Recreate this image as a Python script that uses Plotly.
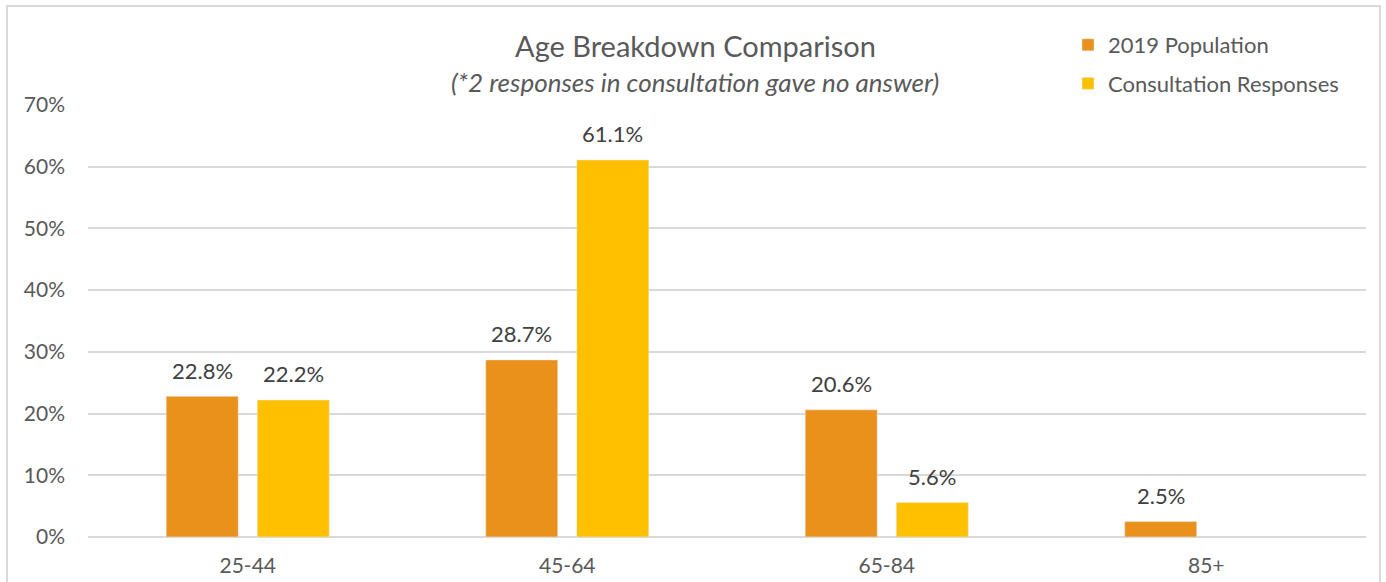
import plotly.graph_objects as go

categories = ["25-44", "45-64", "65-84", "85+"]
population_2019 = [22.8, 28.7, 20.6, 2.5]
consultation = [22.2, 61.1, 5.6, None]
y_ticks = [0, 10, 20, 30, 40, 50, 60, 70]
y_tick_labels = ["0%", "10%", "20%", "30%", "40%", "50%", "60%", "70%"]

ORANGE = "#EA911C"
YELLOW = "#FFC000"
FONT = "Lato"
GREY = "#595959"
LABEL = "#404040"

fig = go.Figure()
fig.add_trace(go.Bar(name="2019 Population", x=categories, y=population_2019,
                     marker_color=ORANGE, legendgroup="a"))
fig.add_trace(go.Bar(name="Consultation Responses", x=categories, y=consultation,
                     marker_color=YELLOW, legendgroup="b"))

annotations = []
for vals, shift in ((population_2019, -45.5), (consultation, 45.5)):
    for c, v in zip(categories, vals):
        if v is None:
            continue
        annotations.append(dict(x=c, y=v, xref="x", yref="y", text=f"{v:.1f}%",
                                showarrow=False, xshift=shift, yshift=26,
                                yanchor="middle",
                                font=dict(family=FONT, size=22, color=LABEL)))

annotations.append(dict(x=0.475, y=(537 - 45) / 432, xref="paper", yref="paper",
                        text="Age Breakdown Comparison", showarrow=False,
                        yanchor="middle",
                        font=dict(family=FONT, size=29, color=GREY)))
annotations.append(dict(x=0.475, y=(537 - 82) / 432, xref="paper", yref="paper",
                        text="<i>(*2 responses in consultation gave no answer)</i>",
                        showarrow=False, yanchor="middle",
                        font=dict(family=FONT, size=26, color=GREY)))

fig.update_layout(
    width=1386, height=582,
    margin=dict(l=88, r=20, t=105, b=45, autoexpand=False),
    paper_bgcolor="white", plot_bgcolor="white",
    barmode="group", bargap=0.43, bargroupgap=0.209,
    font=dict(family=FONT, size=21, color=GREY),
    showlegend=True,
    legend=dict(x=(1068 - 88) / 1278, y=(537 - 24) / 432, xanchor="left", yanchor="top",
                traceorder="grouped", tracegroupgap=7,
                font=dict(family=FONT, size=22, color=GREY),
                bgcolor="rgba(0,0,0,0)"),
    annotations=annotations,
    shapes=[dict(type="rect", xref="paper", yref="paper",
                 x0=(7 - 88) / 1278, x1=(1380 - 88) / 1278,
                 y0=-0.3, y1=(537 - 6) / 432,
                 line=dict(color="#D9D9D9", width=2), layer="below")],
)
fig.update_xaxes(showgrid=False, showline=False, ticks="",
                 tickfont=dict(family=FONT, size=21, color=GREY),
                 ticklabelstandoff=14)
fig.update_yaxes(range=[0, 70], tickvals=y_ticks, ticktext=y_tick_labels,
                 showgrid=True, gridcolor="#D9D9D9", gridwidth=1.5,
                 zeroline=True, zerolinecolor="#D9D9D9", zerolinewidth=1.5,
                 showline=False, ticks="",
                 tickfont=dict(family=FONT, size=21, color=GREY),
                 ticklabelstandoff=22)

fig.write_html("out.html", config={"displayModeBar": False},
               post_script="document.body.style.margin='0px';")
